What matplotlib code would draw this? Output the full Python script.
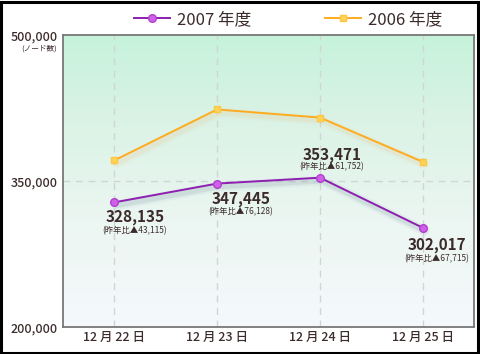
import matplotlib
matplotlib.use("Agg")
import matplotlib.pyplot as plt
import matplotlib.patheffects as pe
import numpy as np
from matplotlib.colors import LinearSegmentedColormap

plt.rcParams['font.family'] = ['Noto Sans CJK JP', 'DejaVu Sans']

days = ["12 月 22 日", "12 月 23 日", "12 月 24 日", "12 月 25 日"]
nodes_2007 = [328135, 347445, 353471, 302017]
diff_prev = [43115, 76128, 61752, 67715]
nodes_2006 = [a + d for a, d in zip(nodes_2007, diff_prev)]
yticks = [200000, 350000, 500000]

txt = "#3b2b2b"
purple = "#8e1fb0"
orange = "#ffab1f"

fig = plt.figure(figsize=(4.8, 3.54), dpi=100)
fig.patches.append(plt.Rectangle((0.002, 0.003), 0.994, 0.992, transform=fig.transFigure,
                                 fill=False, edgecolor="black", linewidth=2.2))
ax = fig.add_axes([0.131, 0.076, 0.857, 0.825])

x = np.arange(len(days))
ax.set_xlim(-0.5, 3.5)
ax.set_ylim(200000, 500000)

# background gradient
cmap = LinearSegmentedColormap.from_list(
    "bg", [(0, "#f5f9fc"), (0.35, "#ecf6f2"), (0.7, "#dbf3e6"), (1, "#c6f2da")])
grad = np.linspace(0, 1, 256).reshape(-1, 1)
ax.imshow(grad, extent=[0, 1, 0, 1], transform=ax.transAxes, cmap=cmap,
          aspect="auto", origin="lower", zorder=0)

for xi in x:
    ax.axvline(xi, color="#d0d6d4", lw=1, ls=(0, (5, 4)), zorder=1)
ax.axhline(350000, color="#d0d6d4", lw=1, ls=(0, (5, 4)), zorder=1)

# soft shadows under the lines
for series, sc in ((nodes_2006, "#e8c890"), (nodes_2007, "#8098a8")):
    ax.plot(x, series, color=sc, lw=4, alpha=0.18, zorder=2, solid_capstyle="round",
            path_effects=[pe.withStroke(linewidth=7, foreground=sc, alpha=0.08)],
            transform=ax.transData + matplotlib.transforms.ScaledTranslation(2 / 100, -3 / 100, fig.dpi_scale_trans))

ax.plot(x, nodes_2006, color=orange, lw=1.4, marker="s", ms=5, mfc="#ffd25a",
        mec="#ffc640", zorder=3, label="2006 年度")
ax.plot(x, nodes_2007, color=purple, lw=1.4, marker="o", ms=5.5, mfc="#d060e8",
        mec="#b040d0", zorder=4, label="2007 年度")

# value labels (x offset, y offset of number, y offset of note)
offsets = [(0.2, -15400, -28800), (0.23, -15400, -28800), (0.117, 23600, 11300), (0.136, -17500, -31800)]
for xi, v, d, (dx, dy1, dy2) in zip(x, nodes_2007, diff_prev, offsets):
    ax.text(xi + dx, v + dy1, f"{v:,}", ha="center", va="center", fontsize=11,
            fontweight="bold", color=txt, zorder=5)
    ax.text(xi + dx, v + dy2, f"(昨年比▲{d:,})", ha="center", va="center", fontsize=6,
            color=txt, zorder=5)

ax.set_xticks(x)
ax.set_xticklabels(days, fontsize=9, color=txt, fontweight="medium")
ax.set_yticks(yticks)
ax.set_yticklabels([f"{t:,}" for t in yticks], fontsize=9, color=txt, fontweight="medium")
ax.tick_params(length=0, pad=4)
ax.tick_params(axis="x", pad=3)
for s in ax.spines.values():
    s.set_color("#777777")
    s.set_linewidth(1.3)
ax.text(-0.015, 0.955, "(ノード数)", transform=ax.transAxes, ha="right", va="center",
        fontsize=5.5, color=txt)

# legend
h, l = ax.get_legend_handles_labels()
fig.legend(h[::-1], l[::-1], loc="center", bbox_to_anchor=(0.6, 0.945), ncol=2,
           frameon=False, fontsize=12, labelcolor=txt, handlelength=2.2,
           columnspacing=4.4, handletextpad=0.4)

fig.savefig("out.png", dpi=100)
